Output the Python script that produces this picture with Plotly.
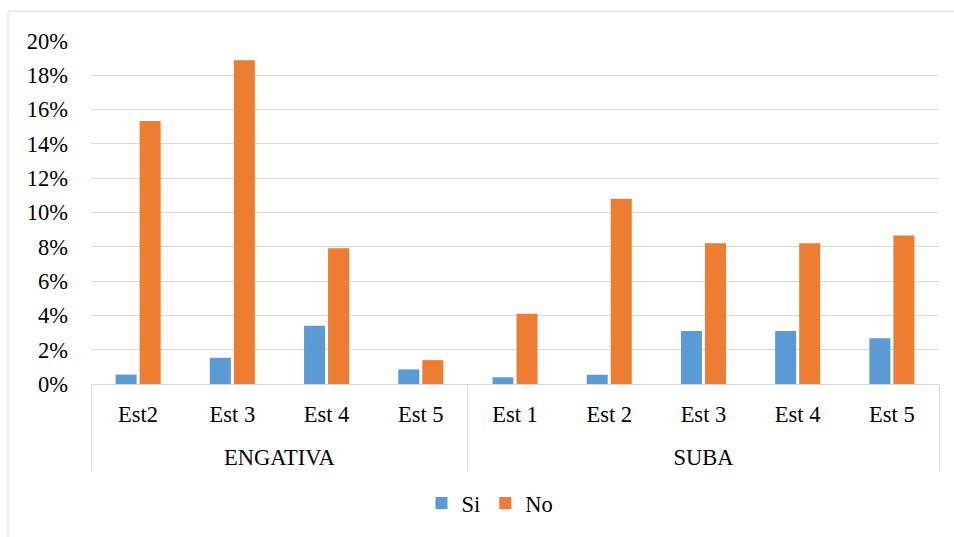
import plotly.graph_objects as go

# Localidad / estrato categories
localidades = ["ENGATIVA"] * 4 + ["SUBA"] * 5
estratos = ["Est2", "Est 3", "Est 4", "Est 5", "Est 1", "Est 2", "Est 3", "Est 4", "Est 5"]

# Share of respondents (fraction) answering each option
si_vals = [0.0055, 0.0153, 0.0339, 0.0085, 0.0039, 0.0054, 0.0309, 0.0309, 0.0267]
no_vals = [0.1533, 0.1888, 0.0792, 0.0139, 0.0410, 0.1080, 0.0821, 0.0821, 0.0866]

y_ticks = [0, 0.02, 0.04, 0.06, 0.08, 0.10, 0.12, 0.14, 0.16, 0.18, 0.20]

BLUE = "#5B9BD5"
ORANGE = "#ED7D31"
GRID = "#D9D9D9"
FONT = "Liberation Serif, Times New Roman, serif"
FS = 22.5

# slot index of every bar pair, plus group spans for the second label row
pos = list(range(len(estratos)))
groups = []
for i, loc in enumerate(localidades):
    if not groups or groups[-1][0] != loc:
        groups.append([loc, i, i])
    else:
        groups[-1][2] = i
group_names = [g[0] for g in groups]
group_centers = [(g[1] + g[2]) / 2 for g in groups]
group_edges = [groups[0][1] - 0.5] + [g[2] + 0.5 for g in groups]
x_range = [pos[0] - 0.5, pos[-1] + 0.5]

fig = go.Figure()
fig.add_trace(go.Bar(name="Si", x=pos, y=si_vals,
                     marker=dict(color=BLUE, line=dict(width=0))))
fig.add_trace(go.Bar(name="No", x=pos, y=no_vals,
                     marker=dict(color=ORANGE, line=dict(width=0))))
# invisible carrier for the localidad label row
fig.add_trace(go.Scatter(x=group_centers, y=[0] * len(group_centers), xaxis="x2",
                         mode="markers", marker=dict(opacity=0),
                         showlegend=False, hoverinfo="skip"))

# Plot area spans x 91..939 px and y 41..386 px of a 954x537 canvas
L, R, T, B = 91, 15, 41, 151
W, H = 954, 537
pw, ph = W - L - R, H - T - B


def px_to_paper_x(px):
    return (px - L) / pw


def px_to_paper_y(py):
    return (H - B - py) / ph


fig.update_layout(
    width=W, height=H,
    margin=dict(l=L, r=R, t=T, b=B),
    paper_bgcolor="white", plot_bgcolor="white",
    font=dict(family=FONT, size=FS, color="#000000"),
    barmode="group", bargap=0.49, bargroupgap=0.125,
    showlegend=True,
    legend=dict(orientation="h", x=px_to_paper_x(490), xanchor="center",
                y=px_to_paper_y(506), yanchor="middle",
                font=dict(family=FONT, size=FS), itemwidth=30,
                bgcolor="rgba(0,0,0,0)", traceorder="normal"),
    xaxis=dict(
        range=x_range,
        tickmode="array", tickvals=pos, ticktext=estratos,
        showline=True, linecolor=GRID, linewidth=1,
        showgrid=False, zeroline=False, ticks="",
        ticklabelstandoff=10,
        tickfont=dict(family=FONT, size=FS),
        minor=dict(tickmode="array", tickvals=group_edges, ticks="outside",
                   ticklen=86, tickcolor=GRID, tickwidth=1, showgrid=False),
    ),
    xaxis2=dict(
        overlaying="x", anchor="y", side="bottom", range=x_range,
        tickmode="array", tickvals=group_centers, ticktext=group_names,
        showline=False, showgrid=False, zeroline=False, ticks="",
        ticklabelstandoff=57,
        tickfont=dict(family=FONT, size=FS),
    ),
    yaxis=dict(
        range=[0, 0.20], tickvals=y_ticks, tickformat=".0%",
        showgrid=True, gridcolor=GRID, gridwidth=1,
        zeroline=False, showline=False, ticks="",
        tickfont=dict(family=FONT, size=FS),
        ticklabelstandoff=22,
    ),
    shapes=[
        # outer chart border
        dict(type="rect", xref="paper", yref="paper", layer="below",
             x0=px_to_paper_x(8), x1=px_to_paper_x(962),
             y0=px_to_paper_y(548), y1=px_to_paper_y(11),
             line=dict(color=GRID, width=1), fillcolor="rgba(0,0,0,0)"),
    ],
)

fig.write_html("out.html")
